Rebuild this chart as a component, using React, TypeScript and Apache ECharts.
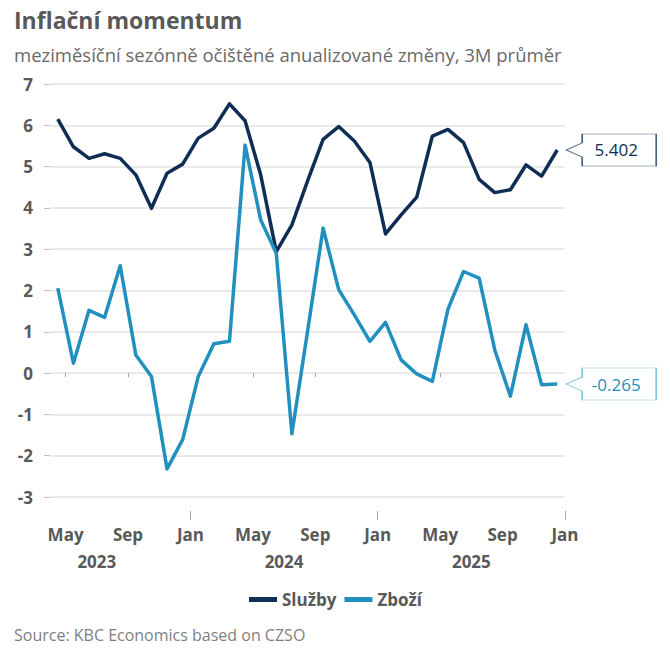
import React, { useEffect, useRef } from "react";
import * as echarts from "echarts";

const titleText = "Inflační momentum";
const subtitleText = "meziměsíční sezónně očištěné anualizované změny, 3M průměr";
const sourceText = "Source: KBC Economics based on CZSO";

const months = [
  "2023-04", "2023-05", "2023-06", "2023-07", "2023-08", "2023-09", "2023-10", "2023-11", "2023-12",
  "2024-01", "2024-02", "2024-03", "2024-04", "2024-05", "2024-06", "2024-07", "2024-08", "2024-09", "2024-10", "2024-11", "2024-12",
  "2025-01", "2025-02", "2025-03", "2025-04", "2025-05", "2025-06", "2025-07", "2025-08", "2025-09", "2025-10", "2025-11", "2025-12",
];

const sluzby = [
  6.15, 5.48, 5.2, 5.31, 5.2, 4.8, 3.99, 4.84, 5.06,
  5.69, 5.93, 6.52, 6.11, 4.8, 2.94, 3.59, 4.65, 5.66, 5.97, 5.62, 5.1,
  3.37, 3.83, 4.26, 5.74, 5.9, 5.58, 4.69, 4.37, 4.44, 5.04, 4.77, 5.402,
];

const zbozi = [
  2.06, 0.24, 1.52, 1.35, 2.6, 0.44, -0.08, -2.32, -1.61,
  -0.08, 0.71, 0.77, 5.52, 3.71, 2.9, -1.47, 1.0, 3.51, 2.02, 1.41, 0.77,
  1.23, 0.32, -0.02, -0.2, 1.55, 2.46, 2.3, 0.56, -0.56, 1.17, -0.28, -0.265,
];

const tickMonths = ["2023-05", "2023-09", "2024-01", "2024-05", "2024-09", "2025-01", "2025-05", "2025-09", "2026-01"];
const yearLabels = ["2023", "2024", "2025"];
const monthNames = ["Jan", "Feb", "Mar", "Apr", "May", "Jun", "Jul", "Aug", "Sep", "Oct", "Nov", "Dec"];
const seriesNames = ["Služby", "Zboží"];

const NAVY = "#0f2d55";
const BLUE = "#2190be";
const GRAY = "#595959";
const FONT = "'Open Sans', 'Noto Sans', sans-serif";

const BASE_YEAR = 2023;
const monthIndex = (s: string) => {
  const [y, m] = s.split("-").map(Number);
  return (y - BASE_YEAR) * 12 + (m - 1);
};

const CALLOUT = "path://M0 16 L16 9 L16 0 L90 0 L90 32 L16 32 L16 23 Z";

export default function App() {
  const ref = useRef<HTMLDivElement>(null);

  useEffect(() => {
    document.body.style.margin = "0";
    const chart = echarts.init(ref.current!, null, { renderer: "svg" });

    const xMin = monthIndex(months[0]);
    const xMax = monthIndex(months[months.length - 1]) + 1;
    const tickVals = tickMonths.map(monthIndex);
    const janVals = tickVals.filter((v) => v % 12 === 0);
    const otherVals = tickVals.filter((v) => v % 12 !== 0);
    const yearVals = yearLabels.map((y) => monthIndex(`${y}-07`));

    const toData = (vals: number[]) => vals.map((v, i) => [monthIndex(months[i]) + 0.5, v]);

    const mkSeries = (name: string, vals: number[], color: string, border: string) => {
      const lastX = monthIndex(months[vals.length - 1]) + 0.5;
      const lastY = vals[vals.length - 1];
      return {
        name,
        type: "line",
        data: toData(vals),
        showSymbol: false,
        symbol: "none",
        clip: false,
        lineStyle: { color, width: 3.5, join: "round" },
        itemStyle: { color },
        markPoint: {
          symbol: CALLOUT,
          symbolSize: [90, 32],
          symbolOffset: [54, 0],
          silent: true,
          itemStyle: { color: "#ffffff", borderColor: border, borderWidth: 1 },
          label: {
            show: true,
            position: "inside",
            offset: [5, 0],
            color,
            fontSize: 17,
            fontFamily: FONT,
            formatter: () => String(lastY),
          },
          data: [{ coord: [lastX, lastY], value: lastY }],
        },
      };
    };

    const baseX = {
      type: "value",
      min: xMin,
      max: xMax,
      position: "bottom",
      offset: 14,
      axisLine: { show: false },
      splitLine: { show: false },
    };

    chart.setOption({
      animation: false,
      textStyle: { fontFamily: FONT },
      title: [
        {
          text: titleText,
          left: 14,
          top: 8,
          padding: 0,
          textStyle: { fontSize: 23, fontWeight: "bold", color: GRAY, fontFamily: FONT },
        },
        {
          text: subtitleText,
          left: 14,
          top: 45,
          padding: 0,
          textStyle: { fontSize: 18.5, fontWeight: "normal", color: "#6a6a6a", fontFamily: FONT },
        },
        {
          text: sourceText,
          left: 14,
          top: 627,
          padding: 0,
          textStyle: { fontSize: 16, fontWeight: "normal", color: "#7f7f7f", fontFamily: FONT },
        },
      ],
      legend: {
        data: seriesNames,
        left: 244,
        top: 586,
        icon: "rect",
        itemWidth: 28,
        itemHeight: 5,
        itemGap: 8,
        textStyle: { fontSize: 17, fontWeight: "bold", color: GRAY, fontFamily: FONT },
      },
      grid: { left: 50, right: 105, top: 84, bottom: 173 },
      xAxis: [
        {
          ...baseX,
          axisTick: { show: true, customValues: otherVals, length: 4, lineStyle: { color: "#a6a6a6" } },
          axisLabel: {
            show: true,
            customValues: tickVals,
            margin: 15,
            fontSize: 17,
            fontWeight: "bold",
            color: GRAY,
            fontFamily: FONT,
            formatter: (v: number) => monthNames[((Math.round(v) % 12) + 12) % 12],
          },
        },
        {
          ...baseX,
          axisTick: { show: true, customValues: janVals, length: 9, lineStyle: { color: "#a6a6a6" } },
          axisLabel: { show: false },
        },
        {
          ...baseX,
          axisTick: { show: false },
          axisLabel: {
            show: true,
            customValues: yearVals,
            margin: 42,
            fontSize: 17,
            fontWeight: "bold",
            color: GRAY,
            fontFamily: FONT,
            formatter: (v: number) => String(BASE_YEAR + Math.floor(v / 12)),
          },
        },
      ],
      yAxis: {
        type: "value",
        min: -3,
        max: 7,
        interval: 1,
        axisLine: { show: false },
        axisTick: { show: true, length: 6, lineStyle: { color: "#bfbfbf" } },
        splitLine: { show: true, lineStyle: { color: "#e3e3e3", width: 1.5 } },
        axisLabel: { margin: 17, fontSize: 17, fontWeight: "bold", color: GRAY, fontFamily: FONT },
      },
      series: [
        mkSeries(seriesNames[0], sluzby, NAVY, "#4a6282"),
        mkSeries(seriesNames[1], zbozi, BLUE, "#86c3de"),
      ],
    });

    return () => chart.dispose();
  }, []);

  return <div ref={ref} style={{ position: "absolute", left: 0, top: 0, width: 670, height: 670 }} />;
}
